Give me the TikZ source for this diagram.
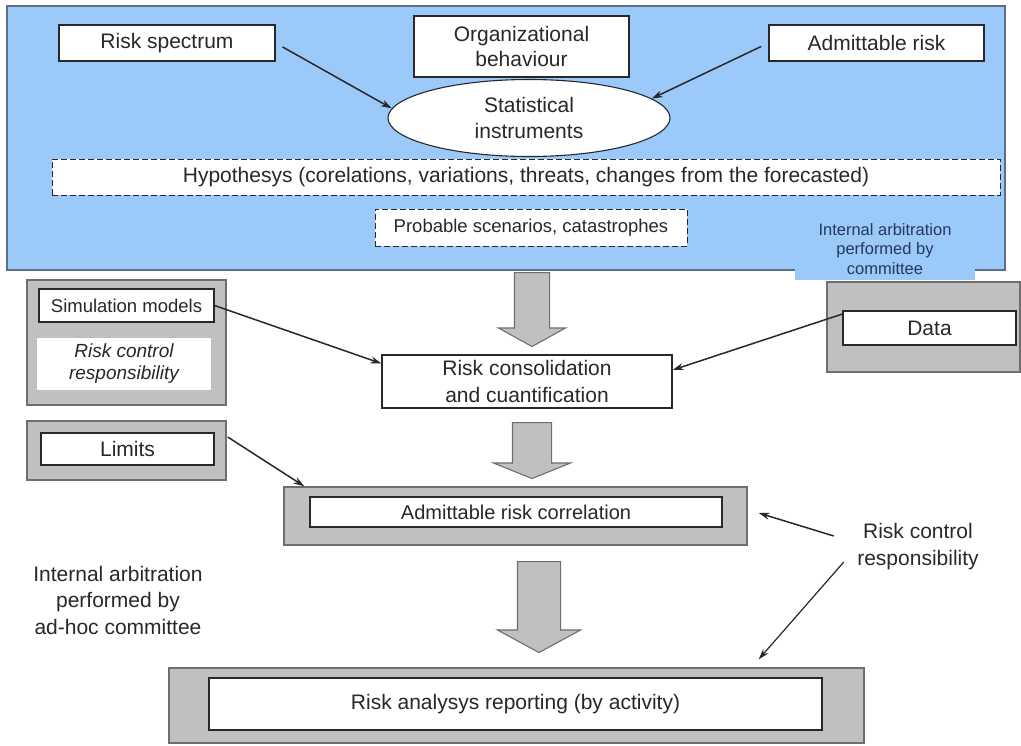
\documentclass[tikz,border=0pt]{standalone}
\usepackage{fontspec}
\setmainfont{Liberation Sans}
\usepackage{xcolor}
\usepackage{tikz}
\usetikzlibrary{
  shapes.geometric, shapes.arrows, arrows.meta, positioning, calc
}
\definecolor{panelblue}{RGB}{155,202,250}
\definecolor{paneledge}{RGB}{90,110,135}
\definecolor{groupgray}{RGB}{192,192,192}
\definecolor{groupedge}{RGB}{110,110,110}
\definecolor{inkgray}{RGB}{40,40,40}
\definecolor{notetext}{RGB}{35,55,95}

\begin{document}
\begin{tikzpicture}[
    x=1pt, y=-1pt,
    font=\fontsize{21}{26}\selectfont,
    text=inkgray,
    box/.style={rectangle, draw=inkgray, fill=white, line width=1.1pt, align=center, inner sep=2pt},
    dashbox/.style={rectangle, draw=inkgray, fill=white, line width=1pt, dash pattern=on 6pt off 3pt, align=center, inner sep=2pt},
    group/.style={rectangle, draw=groupedge, fill=groupgray, line width=1.4pt},
    flow/.style={single arrow, draw=groupedge, fill=groupgray, line width=1.1pt, rotate=-90, anchor=tail, inner xsep=0pt},
    link/.style={-{Stealth[length=11pt,width=7pt]}, line width=1.5pt, draw=inkgray},
]
    \useasboundingbox (0,0) rectangle (1021,745);

    % Top panel: sources and hypotheses
    \node[rectangle, draw=paneledge, fill=panelblue, line width=1.2pt, minimum width=998, minimum height=264] (panel) at (506,138) {};
    \node[fill=panelblue, minimum width=180, minimum height=62, align=center, text=notetext, font=\fontsize{16.5}{19.5}\selectfont] (note) at (885,249) {Internal arbitration\\performed by\\committee};

    \node[box, minimum width=216, minimum height=36] (rspec) at (167,43) {Risk spectrum};
    \node[box, minimum width=215, minimum height=61, font=\fontsize{21}{25}\selectfont] (orgb) at (521.5,46.5) {Organizational\\behaviour};
    \node[box, minimum width=215, minimum height=36] (admr) at (876.5,43) {Admittable risk};
    \node[ellipse, draw=inkgray, fill=white, line width=1.1pt, minimum width=282, minimum height=77, inner sep=0pt, align=center] (stat) at (529,118) {Statistical\\instruments};
    \node[dashbox, minimum width=948, minimum height=36] (hypo) at (526,177) {Hypothesys (corelations, variations, threats, changes from the forecasted)};
    \node[dashbox, minimum width=312, minimum height=37, font=\fontsize{18.5}{22}\selectfont] (scen) at (531,227.5) {Probable scenarios, catastrophes};

    % Side groups
    \node[group, minimum width=199, minimum height=125] (simgrp) at (126.5,342.5) {};
    \node[box, minimum width=175, minimum height=33, font=\fontsize{18.5}{22}\selectfont] (sim) at (126.5,305.5) {Simulation models};
    \node[fill=white, minimum width=174, minimum height=52, align=center, font=\fontsize{19}{22}\selectfont\itshape] (simnote) at (124,364) {Risk control\\responsibility};

    \node[group, minimum width=199, minimum height=59] (limgrp) at (126.5,450.5) {};
    \node[box, minimum width=173, minimum height=32] (lim) at (127.5,449) {Limits};

    \node[group, minimum width=193, minimum height=90] (datagrp) at (923.5,327) {};
    \node[box, minimum width=173, minimum height=34] (data) at (929.5,328) {Data};

    % Main flow
    \node[box, minimum width=290, minimum height=53, font=\fontsize{21}{27}\selectfont] (cons) at (527,381.5) {Risk consolidation\\and cuantification};

    \node[group, minimum width=463, minimum height=58] (corrgrp) at (515.5,516) {};
    \node[box, minimum width=412, minimum height=30, font=\fontsize{20}{24}\selectfont] (corr) at (516,512) {Admittable risk correlation};

    \node[group, minimum width=695, minimum height=75] (repgrp) at (516.5,705.5) {};
    \node[box, minimum width=613, minimum height=52] (rep) at (515.5,704) {Risk analysys reporting (by activity)};

    % Free labels
    \node[align=center, font=\fontsize{21}{26.5}\selectfont] (arbit) at (118,600) {Internal arbitration\\performed by\\ad-hoc committee};
    \node[align=center, font=\fontsize{21}{27}\selectfont] (rcr) at (918,547) {Risk control\\responsibility};

    % Block arrows
    \node[flow, inner ysep=17pt, minimum height=74, minimum width=66, single arrow head extend=16pt, single arrow tip angle=122] (flow1) at (532,272) {};
    \node[flow, inner ysep=19pt, minimum height=56, minimum width=76, single arrow head extend=19pt, single arrow tip angle=136] (flow2) at (532,422) {};
    \node[flow, inner ysep=21pt, minimum height=91, minimum width=82, single arrow head extend=20pt, single arrow tip angle=123] (flow3) at (539,561) {};

    % Connections
    \draw[link, shorten <=8pt] (rspec.east) -- (stat.176);
    \draw[link, shorten <=8pt] (admr.west) -- (stat.9);
    \draw[link] (sim.east) -- ($(cons.west)+(0,-18)$);
    \draw[link] ($(data.west)+(0,-14)$) -- ($(cons.east)+(0,-11.5)$);
    \draw[link] ($(limgrp.east)+(1,-13.5)$) -- ($(corrgrp.north west)+(21,0)$);
    \draw[link] ($(rcr.west)+(-20,-11)$) -- ($(corrgrp.east)+(11,-3)$);
    \draw[link, line width=1.2pt] ($(rcr.west)+(-10,15)$) -- ($(repgrp.north east)+(-106,-8)$);
\end{tikzpicture}
\end{document}
